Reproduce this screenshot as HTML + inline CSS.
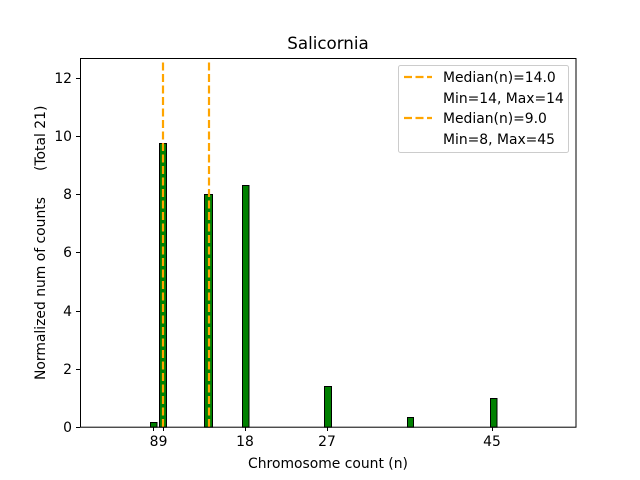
<!DOCTYPE html>
<html><head><style>body{margin:0;background:#fff}svg{display:block}text{font-family:"DejaVu Sans","Liberation Sans",sans-serif;fill:#000}</style></head>
<body>
<svg width="640" height="480" viewBox="0 0 640 480" xmlns="http://www.w3.org/2000/svg">
<rect width="640" height="480" fill="#fff"/>
<text x="328" y="49" font-size="16.7" text-anchor="middle">Salicornia</text>
<g fill="#008000" stroke="#000" stroke-width="1">
<rect x="150.5" y="422.5" width="6.5" height="4.7"/>
<rect x="159.5" y="143.5" width="7" height="283.7"/>
<rect x="204.5" y="194.5" width="8" height="232.7"/>
<rect x="242.5" y="185.5" width="6.5" height="241.7"/>
<rect x="324.5" y="386.5" width="7" height="40.7"/>
<rect x="407.5" y="417.5" width="6" height="9.7"/>
<rect x="490.5" y="398.5" width="6.5" height="28.7"/>
</g>
<g stroke="#FFA500" stroke-width="2.2" stroke-dasharray="8,3.5">
<line x1="163" y1="427" x2="163" y2="58"/>
<line x1="209" y1="427" x2="209" y2="58"/>
</g>
<rect x="80.5" y="58.5" width="495.5" height="368.7" fill="none" stroke="#000" stroke-width="1"/>
<g stroke="#000" stroke-width="1">
<line x1="80" y1="427.5" x2="76" y2="427.5"/>
<line x1="80" y1="369.5" x2="76" y2="369.5"/>
<line x1="80" y1="311.5" x2="76" y2="311.5"/>
<line x1="80" y1="252.5" x2="76" y2="252.5"/>
<line x1="80" y1="194.5" x2="76" y2="194.5"/>
<line x1="80" y1="136.5" x2="76" y2="136.5"/>
<line x1="80" y1="78.5" x2="76" y2="78.5"/>
<line x1="153.5" y1="427" x2="153.5" y2="431"/>
<line x1="163.5" y1="427" x2="163.5" y2="431"/>
<line x1="245.5" y1="427" x2="245.5" y2="431"/>
<line x1="327.5" y1="427" x2="327.5" y2="431"/>
<line x1="492.5" y1="427" x2="492.5" y2="431"/>
</g>
<g font-size="13.9" text-anchor="end">
<text x="72" y="432">0</text>
<text x="72" y="374">2</text>
<text x="72" y="316">4</text>
<text x="72" y="257">6</text>
<text x="72" y="199">8</text>
<text x="72" y="141">10</text>
<text x="72" y="83">12</text>
</g>
<g font-size="13.9" text-anchor="middle">
<text x="154" y="446">8</text>
<text x="163" y="446">9</text>
<text x="245" y="446">18</text>
<text x="327" y="446">27</text>
<text x="492" y="446">45</text>
<text x="328" y="468">Chromosome count (n)</text>
</g>
<text transform="translate(45,380) rotate(-90)" font-size="13.9">Normalized num of counts</text>
<text transform="translate(45,171) rotate(-90)" font-size="13.9">(Total 21)</text>
<rect x="398.5" y="65.5" width="170" height="87" rx="2" fill="#fff" fill-opacity="0.8" stroke="#ccc"/>
<g stroke="#FFA500" stroke-width="2.2" stroke-dasharray="8,3.5">
<line x1="404" y1="77" x2="432" y2="77"/>
<line x1="404" y1="118" x2="432" y2="118"/>
</g>
<g font-size="13.9">
<text x="443" y="82">Median(n)=14.0</text>
<text x="443" y="103">Min=14, Max=14</text>
<text x="443" y="123">Median(n)=9.0</text>
<text x="443" y="144">Min=8, Max=45</text>
</g>
</svg>
</body></html>
